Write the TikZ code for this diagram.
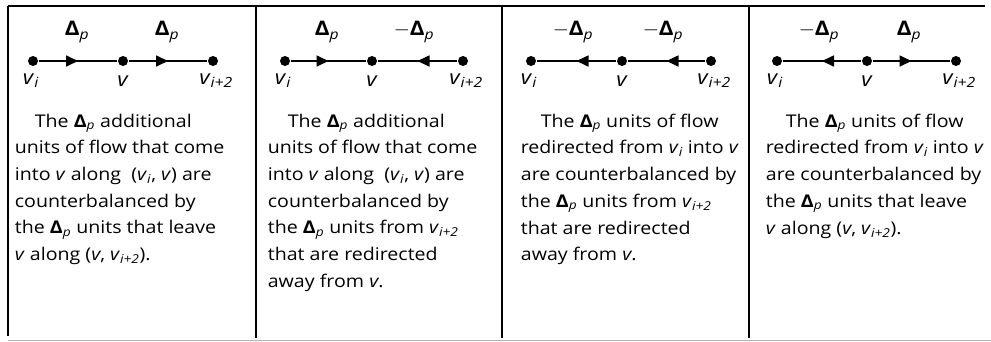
\documentclass[tikz,border=0pt]{standalone}
\usepackage{fontspec}
\setmainfont{Open Sans}[FakeStretch=1.12]
\usetikzlibrary{arrows.meta,decorations.markings}
\newcommand{\Dp}{\textbf{Δ}\textsubscript{\textit{p}}}
\newcommand{\vsub}[1]{\textit{v}\textsubscript{\textit{#1}}}
\newcommand{\first}{\hspace*{20pt}}

\begin{document}
\begin{tikzpicture}[x=1pt,y=-1pt,line width=1.7pt,font=\fontsize{17.5}{26.7}\selectfont,
  dot/.style={circle,fill,inner sep=0pt,minimum size=10pt},
  flow/.style={postaction={decorate},decoration={markings,
    mark=at position .5 with {\arrow{Triangle[length=12pt,width=11pt]}}}},
  tag/.style={font=\fontsize{20}{24}\selectfont},
  blurb/.style={anchor=north west,align=left,inner sep=0pt}]
\useasboundingbox (0,0) rectangle (991,341);
% frame
\draw (8,6)--(985,6) (8,6)--(8,336) (256,6)--(256,338) (502,6)--(502,338) (749,6)--(749,338);
\draw[gray!60,line width=1pt] (8,340)--(991,340);
% panel 1
\node[dot] (a1) at (33,61) {};
\node[dot] (b1) at (123,61) {};
\node[dot] (c1) at (213,61) {};
\draw[flow] (a1)--(b1);
\draw[flow] (b1)--(c1);
\node[tag] (da1) at (77,32) {\Dp};
\node[tag] (db1) at (167,32) {\Dp};
\node[tag] (la1) at (31,81) {\vsub{i}};
\node[tag] (lb1) at (123,81) {\textit{v}};
\node[tag] (lc1) at (216,81) {\vsub{i+2}};
\node[blurb] (t1) at (14,113) {\first The \Dp{} additional\\units of flow that come\\into \textit{v} along\ \ (\vsub{i}, \textit{v}) are\\counterbalanced by\\the \Dp{} units that leave\\\textit{v} along (\textit{v}, \vsub{i+2}).};
% panel 2
\node[dot] (a2) at (285,61) {};
\node[dot] (b2) at (372,61) {};
\node[dot] (c2) at (463,61) {};
\draw[flow] (a2)--(b2);
\draw[flow] (c2)--(b2);
\node[tag] (da2) at (327,32) {\Dp};
\node[tag] (db2) at (414,32) {$-$\Dp};
\node[tag] (la2) at (283,81) {\vsub{i}};
\node[tag] (lb2) at (372,81) {\textit{v}};
\node[tag] (lc2) at (466,81) {\vsub{i+2}};
\node[blurb] (t2) at (267,113) {\first The \Dp{} additional\\units of flow that come\\into \textit{v} along\ \ (\vsub{i}, \textit{v}) are\\counterbalanced by\\the \Dp{} units from \vsub{i+2}\\that are redirected\\away from \textit{v}.};
% panel 3
\node[dot] (a3) at (531,61) {};
\node[dot] (b3) at (622,61) {};
\node[dot] (c3) at (711,61) {};
\draw[flow] (b3)--(a3);
\draw[flow] (c3)--(b3);
\node[tag] (da3) at (573,32) {$-$\Dp};
\node[tag] (db3) at (663,32) {$-$\Dp};
\node[tag] (la3) at (529,81) {\vsub{i}};
\node[tag] (lb3) at (622,81) {\textit{v}};
\node[tag] (lc3) at (714,81) {\vsub{i+2}};
\node[blurb] (t3) at (520,113) {\first The \Dp{} units of flow\\redirected from \vsub{i} into \textit{v}\\are counterbalanced by\\the \Dp{} units from \vsub{i+2}\\that are redirected\\away from \textit{v}.};
% panel 4
\node[dot] (a4) at (777,61) {};
\node[dot] (b4) at (867,61) {};
\node[dot] (c4) at (956,61) {};
\draw[flow] (b4)--(a4);
\draw[flow] (b4)--(c4);
\node[tag] (da4) at (819,32) {$-$\Dp};
\node[tag] (db4) at (909,32) {\Dp};
\node[tag] (la4) at (775,81) {\vsub{i}};
\node[tag] (lb4) at (867,81) {\textit{v}};
\node[tag] (lc4) at (959,81) {\vsub{i+2}};
\node[blurb] (t4) at (765,113) {\first The \Dp{} units of flow\\redirected from \vsub{i} into \textit{v}\\are counterbalanced by\\the \Dp{} units that leave\\\textit{v} along (\textit{v}, \vsub{i+2}).};
\end{tikzpicture}
\end{document}
